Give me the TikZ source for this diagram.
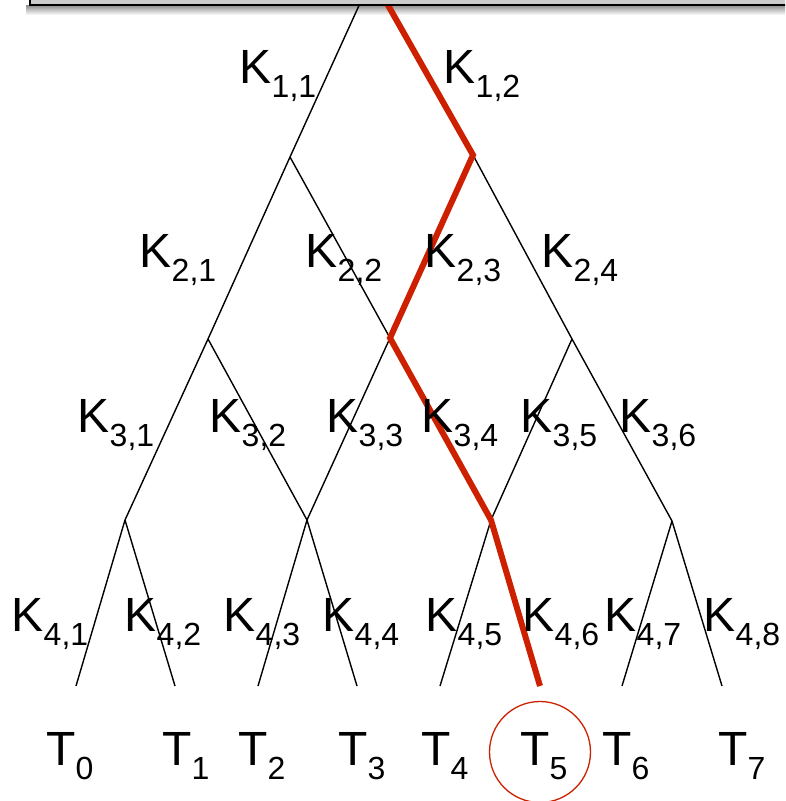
\documentclass[tikz,border=0pt]{standalone}
\usepackage{fontspec}
\setmainfont{Liberation Sans}
\definecolor{pathred}{RGB}{204,32,0}
\definecolor{boxgray}{RGB}{204,204,204}
\newcommand\lbl[2]{#1\raisebox{-14pt}{\fontsize{32}{32}\selectfont #2}}
\begin{document}
\begin{tikzpicture}[x=1pt,y=-1pt,
  edge/.style={line width=1.4pt, black},
  redpath/.style={line width=6pt, pathred},
  klab/.style={anchor=base west, inner sep=0pt, font=\fontsize{48}{48}\selectfont},
  tlab/.style={anchor=base west, inner sep=0pt, font=\fontsize{48}{48}\selectfont}]
\useasboundingbox (0,0) rectangle (785,801);
\clip (0,0) rectangle (785,801);
% shadow under the top box
\shade[top color=black!45, bottom color=white] (26,5) rectangle (790,15);
% tree points
\coordinate (r) at (372,-23);
\coordinate (a1) at (290,157);
\coordinate (a2) at (473,155);
\coordinate (b1) at (208,339);
\coordinate (b2) at (390,338);
\coordinate (b3) at (572,339);
\coordinate (c1) at (125,520);
\coordinate (c2) at (307,520);
\coordinate (c3) at (491,520);
\coordinate (c4) at (672,521);
\coordinate (l0) at (76,686);
\coordinate (l1) at (175,686);
\coordinate (l2) at (258,686);
\coordinate (l3) at (357,686);
\coordinate (l4) at (440,686);
\coordinate (l5) at (540,686);
\coordinate (l6) at (622,686);
\coordinate (l7) at (722,686);
% black edges
\draw[edge] (r) -- (a1) -- (b1) -- (c1) -- (l0);
\draw[edge] (c1) -- (l1);
\draw[edge] (r) -- (a2) -- (b3) -- (c4) -- (l7);
\draw[edge] (c4) -- (l6);
\draw[edge] (a1) -- (b2) -- (c3) -- (l5);
\draw[edge] (a2) -- (b2) -- (c2) -- (l3);
\draw[edge] (b1) -- (c2) -- (l2);
\draw[edge] (b3) -- (c3) -- (l4);
% red path
\draw[redpath, line join=miter] (r) -- (a2) -- (b2) -- (c3) -- (l5);
% top box
\draw[line width=1.5pt, fill=boxgray] (30,-30) rectangle (800,5);
% labels
\node[klab] (k11) at (239.5,83) {\lbl{K}{1,1}};
\node[klab] (k12) at (443.5,83) {\lbl{K}{1,2}};
\node[klab] (k21) at (139.5,267) {\lbl{K}{2,1}};
\node[klab] (k22) at (305.5,267) {\lbl{K}{2,2}};
\node[klab] (k23) at (424.5,267) {\lbl{K}{2,3}};
\node[klab] (k24) at (541.5,267) {\lbl{K}{2,4}};
\node[klab] (k31) at (77.5,432) {\lbl{K}{3,1}};
\node[klab] (k32) at (209.5,432) {\lbl{K}{3,2}};
\node[klab] (k33) at (326.5,432) {\lbl{K}{3,3}};
\node[klab] (k34) at (421.5,432) {\lbl{K}{3,4}};
\node[klab] (k35) at (520.5,432) {\lbl{K}{3,5}};
\node[klab] (k36) at (619.5,432) {\lbl{K}{3,6}};
\node[klab] (k41) at (11.5,631) {\lbl{K}{4,1}};
\node[klab] (k42) at (124.5,631) {\lbl{K}{4,2}};
\node[klab] (k43) at (223.5,631) {\lbl{K}{4,3}};
\node[klab] (k44) at (322.5,631) {\lbl{K}{4,4}};
\node[klab] (k45) at (425.5,631) {\lbl{K}{4,5}};
\node[klab] (k46) at (522.5,631) {\lbl{K}{4,6}};
\node[klab] (k47) at (604.5,631) {\lbl{K}{4,7}};
\node[klab] (k48) at (703.5,631) {\lbl{K}{4,8}};
\node[tlab] (t0) at (46,765) {\lbl{T}{0}};
\node[tlab] (t1) at (162,765) {\lbl{T}{1}};
\node[tlab] (t2) at (238,765) {\lbl{T}{2}};
\node[tlab] (t3) at (338,765) {\lbl{T}{3}};
\node[tlab] (t4) at (421,765) {\lbl{T}{4}};
\node[tlab] (t5) at (520,765) {\lbl{T}{5}};
\node[tlab] (t6) at (602,765) {\lbl{T}{6}};
\node[tlab] (t7) at (718,765) {\lbl{T}{7}};
% circle around T5
\node[draw=pathred, line width=1.3pt, circle, minimum size=101pt, inner sep=0pt] (ring) at (540,752) {};
\end{tikzpicture}
\end{document}
